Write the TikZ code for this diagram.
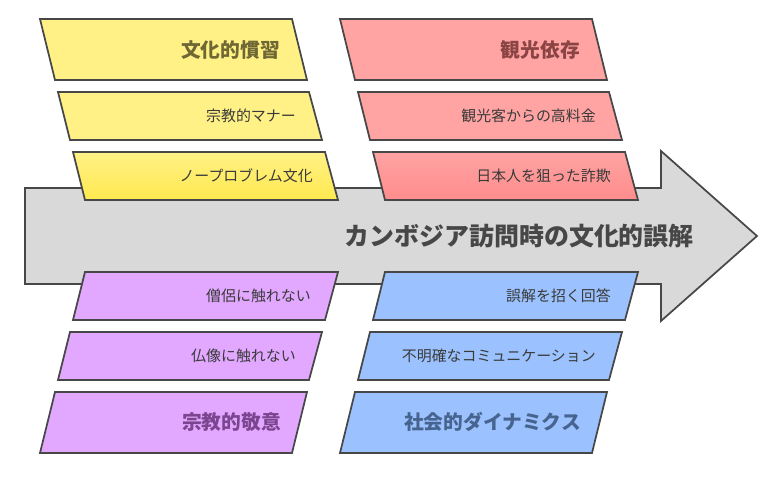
\documentclass[tikz,border=0pt]{standalone}
\usepackage{fontspec}
\setmainfont{Noto Sans CJK JP}
\definecolor{linec}{HTML}{474747}
\definecolor{arrowc}{HTML}{D9D9D9}
\definecolor{yelc}{HTML}{FFF186}
\definecolor{yeld}{HTML}{FFE94F}
\definecolor{redc}{HTML}{FFA3A3}
\definecolor{redd}{HTML}{FF8C8C}
\definecolor{purc}{HTML}{E2A8FF}
\definecolor{bluc}{HTML}{9BC2FF}
\definecolor{yeltxt}{HTML}{6F6834}
\definecolor{redtxt}{HTML}{8A4444}
\definecolor{purtxt}{HTML}{7B4590}
\definecolor{blutxt}{HTML}{46648F}
\definecolor{itemtxt}{HTML}{3A3A3A}
\tikzset{
  para/.style={draw=linec, line width=1.3pt, line join=miter},
  headtxt/.style={anchor=east, inner sep=0pt, font=\fontsize{14.8}{16}\selectfont\bfseries},
  itemtxt/.style={anchor=east, inner sep=0pt, text=itemtxt, font=\fontsize{11.2}{13}\selectfont},
}
\begin{document}
\begin{tikzpicture}[x=0.75pt,y=-0.75pt]
\useasboundingbox (0,0) rectangle (782,477);
% spine
\filldraw[para, fill=arrowc] (25,188) -- (661,188) -- (661,151) -- (757,236) -- (661,321) -- (661,284) -- (25,284) -- cycle;
\node[anchor=east, inner sep=0pt, text=linec, font=\fontsize{18.7}{20}\selectfont\bfseries] (title) at (694,236) {カンボジア訪問時の文化的誤解};
% upper left
\filldraw[para, fill=yelc] (40,19) -- (292,19) -- (307,80) -- (55,80) -- cycle;
\filldraw[para, fill=yelc] (58,92) -- (309,92) -- (322,140) -- (70,140) -- cycle;
\shade[top color=yelc, bottom color=yeld] (73,152) -- (325,152) -- (338,200) -- (85,200) -- cycle;
\draw[para] (73,152) -- (325,152) -- (338,200) -- (85,200) -- cycle;
\node[headtxt, text=yeltxt] (culture) at (280,50) {文化的慣習};
\node[itemtxt] (manner) at (296,116) {宗教的マナー};
\node[itemtxt] (noproblem) at (313,176) {ノープロブレム文化};
% upper right
\filldraw[para, fill=redc] (340,19) -- (592,19) -- (607,80) -- (355,80) -- cycle;
\filldraw[para, fill=redc] (358,92) -- (609,92) -- (622,140) -- (370,140) -- cycle;
\shade[top color=redc, bottom color=redd] (373,152) -- (625,152) -- (638,200) -- (385,200) -- cycle;
\draw[para] (373,152) -- (625,152) -- (638,200) -- (385,200) -- cycle;
\node[headtxt, text=redtxt] (tourism) at (580,50) {観光依存};
\node[itemtxt] (price) at (596,116) {観光客からの高料金};
\node[itemtxt] (scam) at (611,176) {日本人を狙った詐欺};
% lower left
\filldraw[para, fill=purc] (85,272) -- (338,272) -- (325,320) -- (73,320) -- cycle;
\filldraw[para, fill=purc] (70,332) -- (322,332) -- (309,380) -- (58,380) -- cycle;
\filldraw[para, fill=purc] (55,392) -- (307,392) -- (292,453) -- (40,453) -- cycle;
\node[itemtxt] (monk) at (311,296) {僧侶に触れない};
\node[itemtxt] (buddha) at (296,356) {仏像に触れない};
\node[headtxt, text=purtxt] (respect) at (281,422) {宗教的敬意};
% lower right
\filldraw[para, fill=bluc] (385,272) -- (638,272) -- (625,320) -- (373,320) -- cycle;
\filldraw[para, fill=bluc] (370,332) -- (622,332) -- (609,380) -- (358,380) -- cycle;
\filldraw[para, fill=bluc] (355,392) -- (607,392) -- (592,453) -- (340,453) -- cycle;
\node[itemtxt] (answer) at (611,296) {誤解を招く回答};
\node[itemtxt] (unclear) at (596,356) {不明確なコミュニケーション};
\node[headtxt, text=blutxt] (social) at (581,422) {社会的ダイナミクス};
\end{tikzpicture}
\end{document}
